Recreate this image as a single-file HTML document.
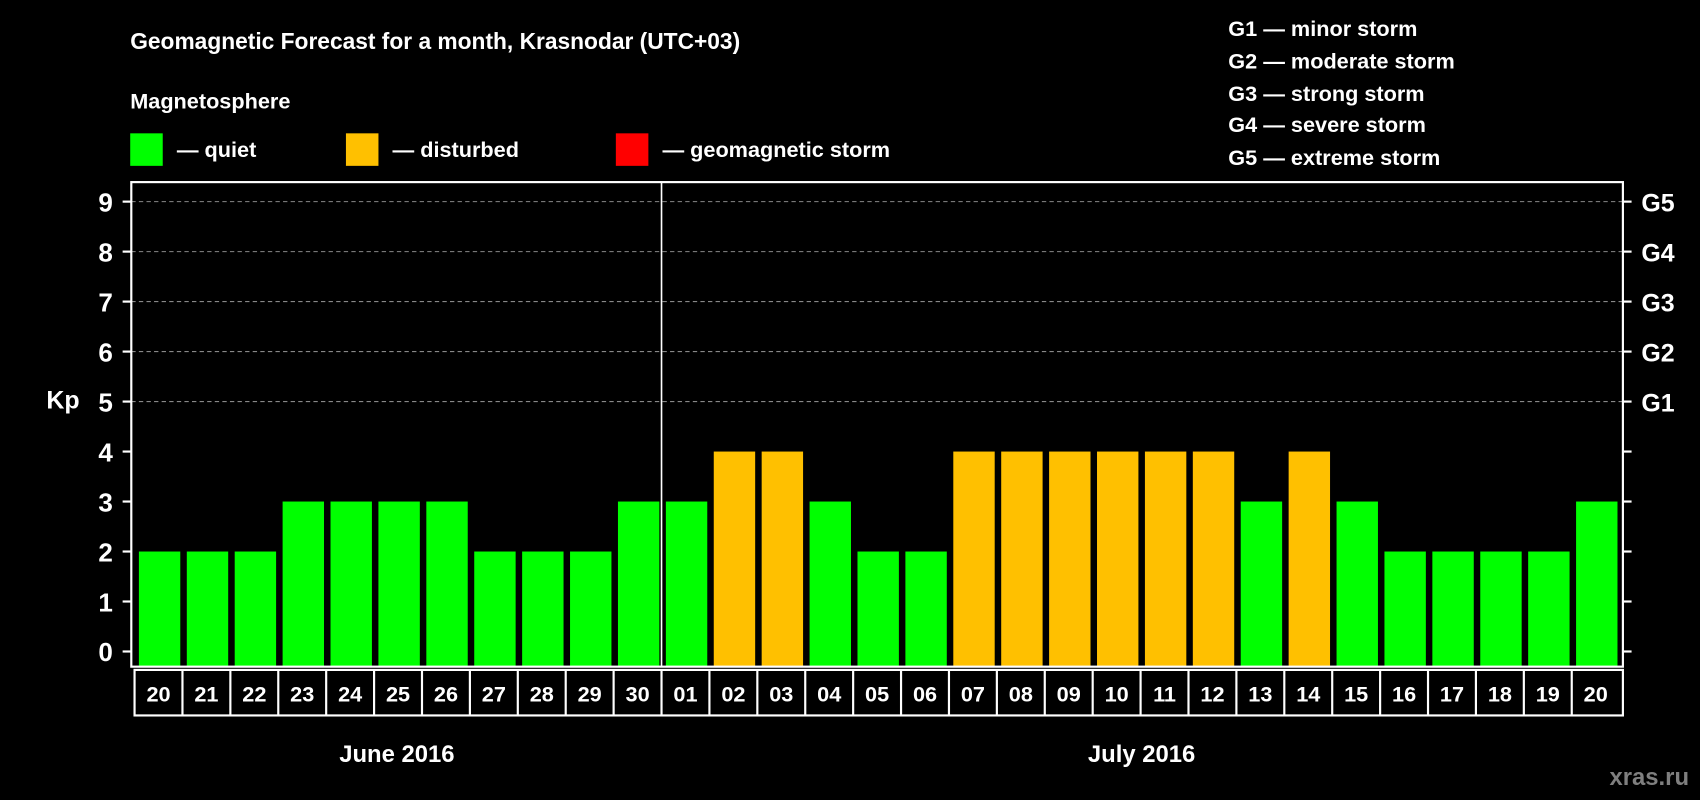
<!DOCTYPE html>
<html><head><meta charset="utf-8"><style>
html,body{margin:0;padding:0;background:#000;}
svg{display:block;font-family:"Liberation Sans",Arial,sans-serif;font-weight:bold;}
</style></head><body>
<svg id="chart" width="1700" height="800" viewBox="0 0 1568 738" xmlns="http://www.w3.org/2000/svg">
<rect x="0" y="0" width="1568" height="738" fill="#000"/>
<text x="120" y="45" fill="#fff" font-size="21">Geomagnetic Forecast for a month, Krasnodar (UTC+03)</text>
<text x="120" y="100" fill="#fff" font-size="20">Magnetosphere</text>
<g><rect x="120" y="123" width="30" height="30" fill="#00ff00"/><text x="163" y="145" fill="#fff" font-size="20">— quiet</text></g>
<g><rect x="319" y="123" width="30" height="30" fill="#ffc000"/><text x="362" y="145" fill="#fff" font-size="20">— disturbed</text></g>
<g><rect x="568" y="123" width="30" height="30" fill="#ff0000"/><text x="611" y="145" fill="#fff" font-size="20">— geomagnetic storm</text></g>
<g fill="#fff" font-size="20">
<text x="1133" y="33">G1 — minor storm</text>
<text x="1133" y="63">G2 — moderate storm</text>
<text x="1133" y="93">G3 — strong storm</text>
<text x="1133" y="122">G4 — severe storm</text>
<text x="1133" y="152">G5 — extreme storm</text>
</g>
<text x="58" y="377" fill="#fff" font-size="23" text-anchor="middle">Kp</text>
<text x="366" y="703" fill="#fff" font-size="22" text-anchor="middle">June 2016</text>
<text x="1053" y="703" fill="#fff" font-size="22" text-anchor="middle">July 2016</text>
<text x="1558" y="724" fill="#7f7f7f" font-size="22" text-anchor="end">xras.ru</text>
<g id="grid"></g><g id="bars"></g><g id="axes"></g><g id="dates"></g>
</svg>
<script>
const days = ["20","21","22","23","24","25","26","27","28","29","30","01","02","03","04","05","06","07","08","09","10","11","12","13","14","15","16","17","18","19","20"];
const kpValues = [2,2,2,3,3,3,3,2,2,2,3,3,4,4,3,2,2,4,4,4,4,4,4,3,4,3,2,2,2,2,3];
const yTicks = ["0","1","2","3","4","5","6","7","8","9"];
const gLabels = ["G1","G2","G3","G4","G5"];
const NS="http://www.w3.org/2000/svg";
const X0=124, X1=1494, Y0=601, YU=(601-186)/9;
const slot=(X1-X0)/days.length;
const xs=i=>X0+i*slot;
const ys=v=>Y0-v*YU;
function mk(tag,attrs,parent){const e=document.createElementNS(NS,tag);for(const k in attrs)e.setAttribute(k,attrs[k]);parent.appendChild(e);return e;}
const grid=document.getElementById('grid'),bars=document.getElementById('bars'),axes=document.getElementById('axes'),dates=document.getElementById('dates');
for(let v=5;v<=9;v++){const l=mk('line',{x1:121,x2:1497,y1:ys(v),y2:ys(v),stroke:'#888','stroke-dasharray':'4,3','stroke-width':1},grid);

}
kpValues.forEach((v,i)=>{const c=v>=5?'#ff0000':(v>=4?'#ffc000':'#00ff00');
const r=mk('rect',{x:xs(i)+4,y:ys(v),width:slot-6,height:Y0+14-ys(v),fill:c},bars);

});
const frame=mk('rect',{x:121,y:168,width:1376,height:447,fill:'none',stroke:'#fff','stroke-width':2},axes);


const div=mk('line',{x1:xs(11),x2:xs(11),y1:168,y2:615,stroke:'#fff','stroke-width':1.5},axes);


yTicks.forEach((t,i)=>{const v=+t;mk('line',{x1:113,x2:121,y1:ys(v),y2:ys(v),stroke:'#fff','stroke-width':2},axes);
mk('line',{x1:1497,x2:1505,y1:ys(v),y2:ys(v),stroke:'#fff','stroke-width':2},axes);
const tx=mk('text',{x:104,y:ys(v)+9,fill:'#fff','font-size':24,'text-anchor':'end'},axes);tx.textContent=t;

});
gLabels.forEach((g,i)=>{const tx=mk('text',{x:1514,y:ys(5+i)+9,fill:'#fff','font-size':23},axes);tx.textContent=g;

});
mk('rect',{x:X0,y:618,width:X1-X0+3,height:42,fill:'none',stroke:'#fff','stroke-width':2},dates);
days.forEach((d,i)=>{if(i>0)mk('line',{x1:xs(i),x2:xs(i),y1:618,y2:660,stroke:'#fff','stroke-width':2},dates);
const tx=mk('text',{x:xs(i)+slot/2,y:647,fill:'#fff','font-size':20,'text-anchor':'middle'},dates);tx.textContent=d;

});
</script>
</body></html>
